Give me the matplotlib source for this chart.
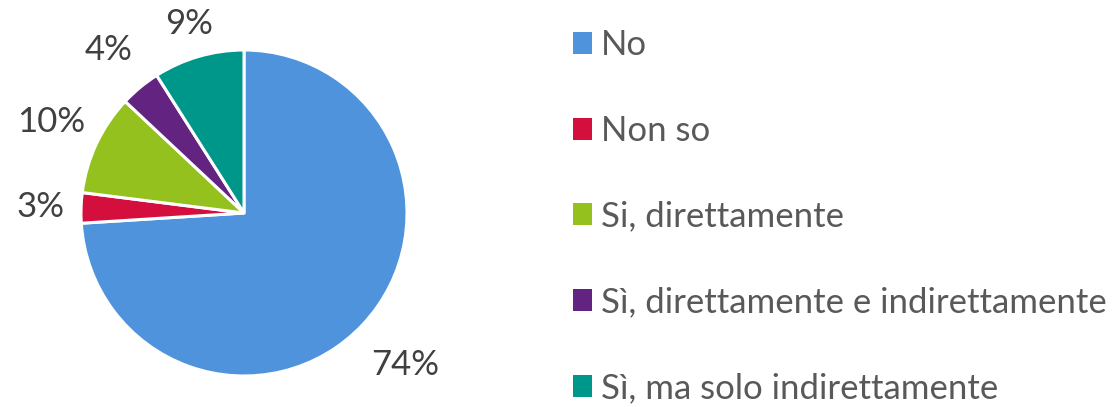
import matplotlib
matplotlib.use("Agg")
import matplotlib.pyplot as plt
import numpy as np

categories = ["No", "Non so", "Si, direttamente", "Sì, direttamente e indirettamente", "Sì, ma solo indirettamente"]
values = [74, 3, 10, 4, 9]
colors = ["#4F93DC", "#D50F3D", "#95C11F", "#632481", "#00978B"]
label_dist = [1.36, 1.25, 1.31, 1.30, 1.21]

plt.rcParams['font.family'] = ['Lato', 'DejaVu Sans']

fig = plt.figure(figsize=(11.18, 4.07), dpi=100)
W, H = 1118, 407
cx, cy, r = 244, 213, 163
ax = fig.add_axes([(cx - r) / W, (H - cy - r) / H, 2 * r / W, 2 * r / H])

wedges, texts, autotexts = ax.pie(
    values, colors=colors, startangle=90, counterclock=False,
    autopct='%1.0f%%', pctdistance=1.28,
    wedgeprops=dict(edgecolor='white', linewidth=2.2),
    textprops=dict(fontsize=25, color='#404040'))
for w, t, d in zip(wedges, autotexts, label_dist):
    ang = np.deg2rad((w.theta1 + w.theta2) / 2)
    t.set_position((d * np.cos(ang), d * np.sin(ang)))
ax.set_xlim(-1, 1)
ax.set_ylim(-1, 1)
ax.set_aspect('equal')
ax.axis('off')

leg = fig.legend(wedges, categories, loc='upper left',
                 bbox_to_anchor=(573 / W, 1 - 29 / H),
                 frameon=False, fontsize=25, labelcolor='#595959',
                 handlelength=0.55, handleheight=0.6, handletextpad=0.25,
                 labelspacing=1.55, borderaxespad=0, borderpad=0)
for h in leg.legend_handles:
    h.set_edgecolor('none')

fig.savefig("out.png", dpi=100)
